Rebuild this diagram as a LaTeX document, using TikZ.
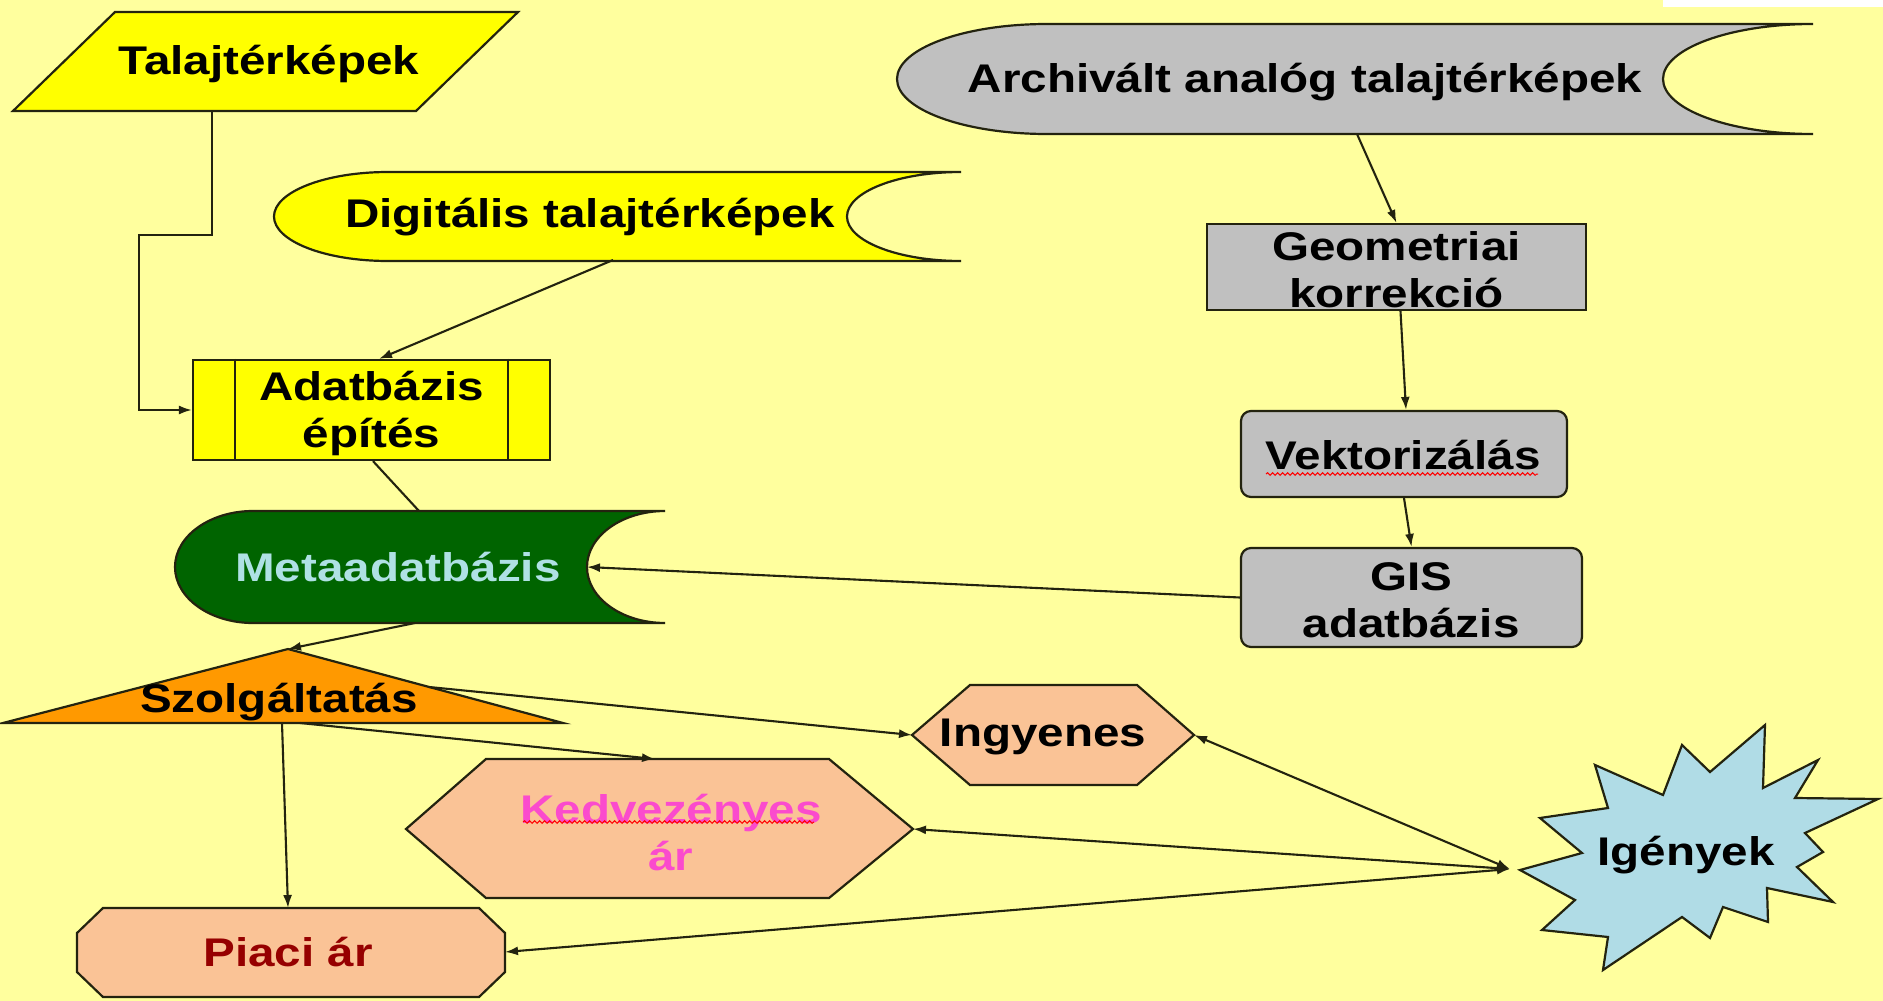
\documentclass[tikz,border=0pt]{standalone}
\usepackage{fontspec}
\newfontfamily\lab{Liberation Sans}[FakeStretch=1.19]
\usetikzlibrary{arrows.meta,decorations.pathmorphing}
\definecolor{bg}{RGB}{255,255,158}
\definecolor{linec}{RGB}{35,35,15}
\definecolor{ylw}{RGB}{255,255,0}
\definecolor{gry}{RGB}{192,192,192}
\definecolor{dgreen}{RGB}{0,100,0}
\definecolor{metatxt}{RGB}{175,225,228}
\definecolor{orng}{RGB}{255,153,0}
\definecolor{peach}{RGB}{250,195,150}
\definecolor{magtxt}{RGB}{250,75,205}
\definecolor{redtxt}{RGB}{150,0,0}
\definecolor{lblue}{RGB}{176,220,230}
\begin{document}
\begin{tikzpicture}[x=1pt,y=-1pt,
  txt/.style={font={\lab\bfseries\fontsize{40}{47}\selectfont}, align=center, inner sep=0pt, text=black},
  shp/.style={draw=linec, line width=2.2pt, line join=miter},
  boxn/.style={shp, rectangle, inner sep=0pt},
  edge/.style={draw=linec, line width=2.1pt},
  arr/.style={edge, -{Latex[length=13pt,width=9pt]}},
  darr/.style={edge, {Latex[length=13pt,width=9pt]}-{Latex[length=13pt,width=9pt]}},
  wavy/.style={draw=red, line width=1pt, decorate, decoration={snake, segment length=5pt, amplitude=1.3pt}}]
% background
\fill[bg] (0,0) rectangle (1883,1001);
\useasboundingbox (0,0) rectangle (1883,1001);
\fill[white] (1663,0) rectangle (1883,7);

% Talajtérképek (parallelogram)
\filldraw[shp, fill=ylw] (115,12) -- (518,12) -- (416,111) -- (13,111) -- cycle;
\node[txt] (talaj) at (269,64) {Talajtérképek};

% Digitális talajtérképek (stored data)
\filldraw[shp, fill=ylw] (961,172) -- (388,172) .. controls (325,172) and (274,191.9) .. (274,216.5)
  .. controls (274,241.1) and (325,261) .. (388,261) -- (961,261)
  .. controls (898,261) and (847,241.1) .. (847,216.5)
  .. controls (847,191.9) and (898,172) .. (961,172) -- cycle;
\node[txt] (digit) at (590,217) {Digitális talajtérképek};

% Archivált analóg talajtérképek (stored data)
\filldraw[shp, fill=gry] (1813,24) -- (1047,24) .. controls (964,24) and (897,48.6) .. (897,79)
  .. controls (897,109.4) and (964,134) .. (1047,134) -- (1813,134)
  .. controls (1730,134) and (1663,109.4) .. (1663,79)
  .. controls (1663,48.6) and (1730,24) .. (1813,24) -- cycle;
\node[txt] (archiv) at (1305,82) {Archivált analóg talajtérképek};

% Adatbázis építés (predefined process)
\node[boxn, fill=ylw, minimum width=357pt, minimum height=100pt] (adatbox) at (371.5,410) {};
\draw[shp] ([xshift=43pt]adatbox.north west) -- ([xshift=43pt]adatbox.south west);
\draw[shp] ([xshift=-43pt]adatbox.north east) -- ([xshift=-43pt]adatbox.south east);
\node[txt] (adat) at (371.5,413) {Adatbázis\\építés};

% Metaadatbázis (stored data)
\filldraw[shp, fill=dgreen] (665,511) -- (253,511) .. controls (210,511) and (175,536.1) .. (175,567)
  .. controls (175,597.9) and (210,623) .. (253,623) -- (665,623)
  .. controls (622,623) and (587,597.9) .. (587,567)
  .. controls (587,536.1) and (622,511) .. (665,511) -- cycle;
\node[txt, text=metatxt] (meta) at (398,567) {Metaadatbázis};

% Geometriai korrekció
\node[boxn, fill=gry, minimum width=379pt, minimum height=86pt] (geom) at (1396.5,267) {};
\node[txt] (geomt) at (1396.5,270) {Geometriai\\korrekció};

% Vektorizálás
\node[boxn, fill=gry, rounded corners=10pt, minimum width=326pt, minimum height=86pt] (vekt) at (1404,454) {};
\node[txt] (vektt) at (1403,455) {Vektorizálás};
\draw[wavy] (1266,474) -- (1538,474);

% GIS adatbázis
\node[boxn, fill=gry, rounded corners=10pt, minimum width=341pt, minimum height=99pt] (gis) at (1411.5,597.5) {};
\node[txt] (gist) at (1411,600) {GIS\\adatbázis};

% Szolgáltatás (triangle)
\filldraw[shp, fill=orng] (288,649) -- (563,723) -- (3,723) -- cycle;
\node[txt] (szolg) at (279,702) {Szolgáltatás};

% Ingyenes (hexagon)
\filldraw[shp, fill=peach] (912,735) -- (970,685) -- (1137,685) -- (1194,735) -- (1137,785) -- (970,785) -- cycle;
\node[txt] (ingy) at (1043,737) {Ingyenes};

% Kedvezényes ár (hexagon)
\filldraw[shp, fill=peach] (406,829) -- (486,759) -- (829,759) -- (913,829) -- (829,898) -- (486,898) -- cycle;
\node[txt, text=magtxt] (kedv) at (671,833) {Kedvezényes\\ár};
\draw[wavy] (523,822) -- (814,822);

% Piaci ár (octagon)
\filldraw[shp, fill=peach] (103,908) -- (479,908) -- (505,933) -- (505,972) -- (479,997) -- (103,997) -- (77,972) -- (77,933) -- cycle;
\node[txt, text=redtxt] (piaci) at (288,952) {Piaci ár};

% Igények (starburst)
\filldraw[shp, fill=lblue] (1520,870) -- (1582,853) -- (1540,818) -- (1608,808) -- (1595,765) -- (1663,795)
  -- (1682,745) -- (1710,772) -- (1765,725) -- (1763,788) -- (1818,760) -- (1795,798) -- (1878,799)
  -- (1805,833) -- (1823,852) -- (1797,867) -- (1833,902) -- (1767,888) -- (1768,922) -- (1723,907)
  -- (1710,938) -- (1682,917) -- (1603,970) -- (1608,937) -- (1542,930) -- (1575,900) -- cycle;
\node[txt] (igeny) at (1686,855) {Igények};

% connection points
\coordinate (talajS) at (212,111);
\coordinate (bend1) at (139,235);
\coordinate (digS) at (613,260);
\coordinate (metaN) at (419,511);
\coordinate (metaS) at (415,623);
\coordinate (metaE) at (587,567);
\coordinate (szolgT) at (288,649);
\coordinate (szolgR) at (429,687);
\coordinate (szolgB1) at (300,723);
\coordinate (szolgB2) at (282,723);
\coordinate (archS) at (1357,134);
\coordinate (ingW) at (912,735);
\coordinate (ingE) at (1194,735);
\coordinate (kedvN) at (655,759);
\coordinate (kedvE) at (913,829);
\coordinate (piaciN) at (288,908);
\coordinate (piaciE) at (505,952);
\coordinate (igW) at (1510,869);

% connectors
\draw[arr] (talajS) |- (bend1) |- (adatbox.west);
\draw[arr] (digS) -- ([xshift=7.5pt]adatbox.north);
\draw[edge] ([xshift=1.5pt]adatbox.south) -- (metaN);
\draw[arr] (metaS) -- (szolgT);
\draw[arr] (archS) -- (geom.north);
\draw[arr] ([xshift=4pt]geom.south) -- ([xshift=2pt]vekt.north);
\draw[arr] (vekt.south) -- (gis.north);
\draw[arr] (gis.west) -- (metaE);
\draw[arr] (szolgR) -- (ingW);
\draw[arr] (szolgB1) -- (kedvN);
\draw[arr] (szolgB2) -- (piaciN);
\draw[darr] (igW) -- (ingE);
\draw[darr] (igW) -- (kedvE);
\draw[darr] (igW) -- (piaciE);
\end{tikzpicture}
\end{document}
